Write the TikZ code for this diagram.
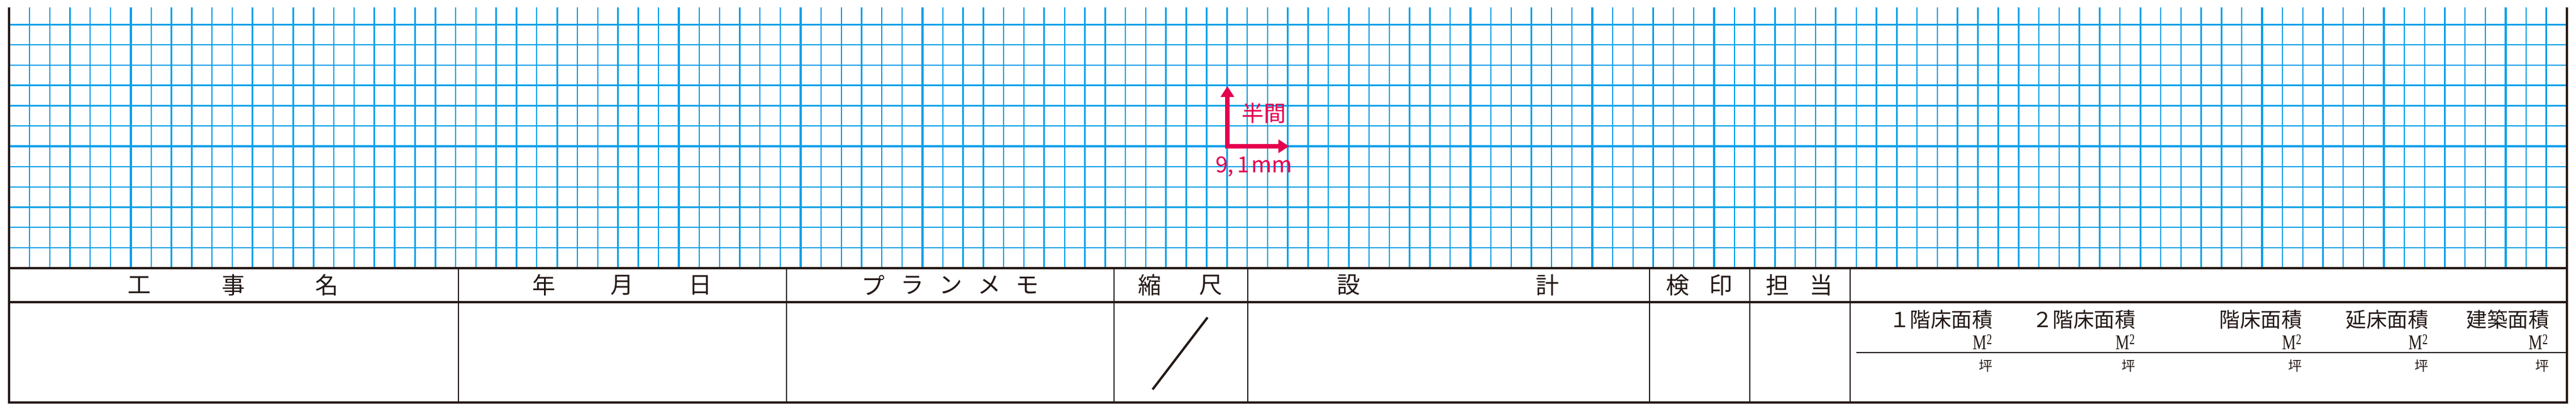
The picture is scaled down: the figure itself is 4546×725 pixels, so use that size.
\documentclass[tikz,border=0pt]{standalone}
\usepackage{fontspec}
\setmainfont{Liberation Serif}
\newfontfamily\jp{Noto Sans CJK JP}
\newfontfamily\mser[FakeStretch=0.74]{Liberation Serif}
\usetikzlibrary{arrows.meta}
\definecolor{gridblue}{HTML}{00A0E9}
\definecolor{ink}{HTML}{231815}
\definecolor{mag}{HTML}{E5004F}
\tikzset{
  gridthin/.style={draw=gridblue, line width=2.2pt},
  gridthick/.style={draw=gridblue, line width=3.2pt},
  frame/.style={draw=ink, line width=4pt, line join=miter},
  divider/.style={draw=ink, line width=2.6pt},
  rule/.style={draw=ink, line width=2.2pt},
  slashline/.style={draw=ink, line width=4pt},
  hdr/.style={inner sep=0pt, text=ink, font={\jp\fontsize{41pt}{41pt}\selectfont}},
  lab/.style={inner sep=0pt, anchor=east, text=ink, font={\jp\fontsize{36.5pt}{36.5pt}\selectfont}},
  msq/.style={inner sep=0pt, anchor=east, text=ink, font={\mser\fontsize{37pt}{37pt}\selectfont}},
  tsubo/.style={inner sep=0pt, anchor=east, text=ink, font={\jp\fontsize{24pt}{24pt}\selectfont}},
  redarrow/.style={draw=mag, line width=8pt, line join=miter,
    arrows={Triangle[length=19pt,width=23pt]-Triangle[length=19pt,width=23pt]}},
  redtxt/.style={inner sep=0pt, text=mag, font={\jp\fontsize{39pt}{39pt}\selectfont}}
}
\begin{document}
\begin{tikzpicture}[x=1pt,y=-1pt]
\useasboundingbox (0,0) rectangle (4546,725);
% grid
\foreach \k in {1,...,125} \draw[gridthin] ({16+\k*35.82},13) -- ({16+\k*35.82},473);
\foreach \k in {0,...,11} \draw[gridthin] (16,{43.16+\k*35.82}) -- (4529.5,{43.16+\k*35.82});
\foreach \k in {3,6,...,123} \draw[gridthick] ({16+\k*35.82},13) -- ({16+\k*35.82},473);
\foreach \k in {0,3,6,9} \draw[gridthick] (16,{43.16+\k*35.82}) -- (4529.5,{43.16+\k*35.82});
% frame
\draw[frame] (16,13) -- (16,710) -- (4529.5,710) -- (4529.5,13);
\draw[frame] (16,473) -- (4529.5,473);
\draw[frame] (16,533) -- (4529.5,533);
\foreach \x in {809,1388,1966,2202,2911,3088,3265} \draw[divider] (\x,473) -- (\x,710);
\draw[rule] (3276,622) -- (4529.5,622);
% scale slash
\coordinate (slA) at (2034,687);
\coordinate (slB) at (2131,560);
\draw[slashline] (slA) -- (slB);
% header texts
\node[hdr] (kou) at (246,503) {工};
\node[hdr] (ji) at (412,503) {事};
\node[hdr] (mei) at (577,503) {名};
\node[hdr] (nen) at (960,503) {年};
\node[hdr] (tsuki) at (1098,503) {月};
\node[hdr] (hi) at (1236,503) {日};
\node[hdr] (pu) at (1541,503) {プ};
\node[hdr] (ra) at (1610,503) {ラ};
\node[hdr] (n) at (1678,503) {ン};
\node[hdr] (me) at (1746,503) {メ};
\node[hdr] (mo) at (1813,503) {モ};
\node[hdr] (shuku) at (2029,503) {縮};
\node[hdr] (shaku) at (2137,503) {尺};
\node[hdr] (setsu) at (2380,503) {設};
\node[hdr] (kei) at (2731,503) {計};
\node[hdr] (ken) at (2961,503) {検};
\node[hdr] (in) at (3037,503) {印};
\node[hdr] (tan) at (3137,503) {担};
\node[hdr] (tou) at (3214,503) {当};
% area labels
\node[lab] (l1) at (3517,564) {１階床面積};
\node[lab] (l2) at (3769,564) {２階床面積};
\node[lab] (l3) at (4063,564) {階床面積};
\node[lab] (l4) at (4286,564) {延床面積};
\node[lab] (l5) at (4499,564) {建築面積};
\foreach \r/\nm in {3516/m1,3768/m2,4062/m3,4285/m4,4497/m5}
  \node[msq] (\nm) at (\r,603) {M\textsuperscript{2}};
\foreach \r/\nm in {3517/t1,3769/t2,4063/t3,4286/t4,4499/t5}
  \node[tsubo] (\nm) at (\r,646) {坪};
% red arrow
\coordinate (corner) at (2166,258);
\coordinate (uptip) at (2166,152);
\coordinate (righttip) at (2275,258);
\draw[redarrow] (uptip) -- (corner) -- (righttip);
\node[redtxt] (hanma) at (2230,200) {半間};
\node[redtxt] (mm) at (2213,294) {9,\hspace{6pt}1\hspace{3pt}mm};
\end{tikzpicture}
\end{document}
